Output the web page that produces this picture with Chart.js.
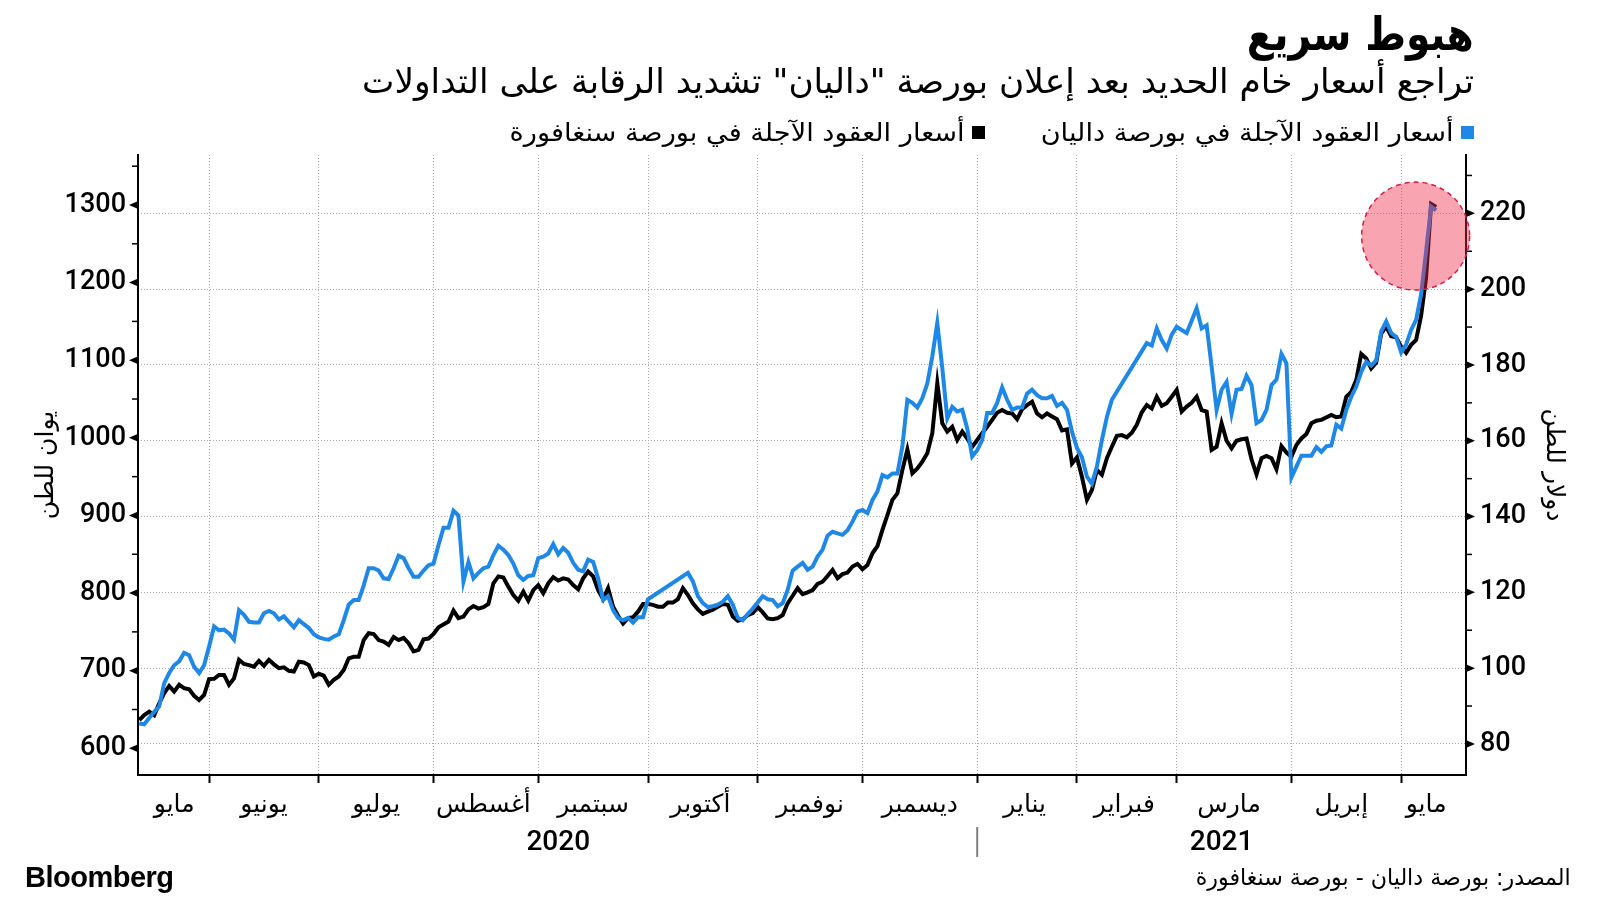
<!DOCTYPE html>
<html lang="ar">
<head>
<meta charset="utf-8">
<script src="https://cdn.jsdelivr.net/npm/chart.js@4.4.1/dist/chart.umd.min.js"></script>
<style>
  html, body { margin: 0; padding: 0; background: #fff; }
  #wrap { position: relative; width: 1600px; height: 900px; overflow: hidden; }
  #chart { position: absolute; left: 0; top: 0; }
  .txt { position: absolute; white-space: nowrap; color: #000; font-family: 'DejaVu Sans', sans-serif; line-height: 1; transform-origin: right center; }
  #title { right: 126px; top: 11px; font-size: 46px; font-weight: bold; }
  #subtitle { right: 126px; top: 64px; font-size: 34px; }
  .leg { top: 120px; font-size: 25px; }
  .sw { position: absolute; top: 126px; width: 13px; height: 13px; }
  #brand { position: absolute; left: 25px; top: 861px; font: bold 29px 'Liberation Sans', Arial, sans-serif; letter-spacing: -0.5px; }
  #source { right: 29px; top: 866px; font-size: 23px; }
</style>
</head>
<body>
<div id="wrap">
  <canvas id="chart" width="1600" height="900"></canvas>
  <div class="txt" id="title" dir="rtl">هبوط سريع</div>
  <div class="txt" id="subtitle" dir="rtl">تراجع أسعار خام الحديد بعد إعلان بورصة "داليان" تشديد الرقابة على التداولات</div>
  <div id="brand">Bloomberg</div>
  <div class="txt" id="source" dir="rtl">المصدر: بورصة داليان - بورصة سنغافورة</div>
</div>
<script>
// trading-day index (0 = 12 May 2020) and prices
const dalianDays = [0,1,2,3,4,5,6,7,8,9,10,11,12,13,14,15,16,17,18,19,20,21,22,23,24,25,26,27,28,29,30,31,32,33,34,35,36,37,38,39,40,41,42,43,44,45,46,47,48,49,50,51,52,53,54,55,56,57,58,59,60,61,62,63,64,65,66,67,68,69,70,71,72,73,74,75,76,77,78,79,80,81,82,83,84,85,86,87,88,89,90,91,92,93,94,95,96,97,98,99,100,101,102,110,111,112,113,114,115,116,117,118,119,120,121,122,123,125,126,127,128,129,130,131,132,133,134,135,136,137,138,139,140,141,142,143,144,145,146,147,148,149,150,151,152,153,154,155,156,157,158,159,160,161,162,163,164,165,166,167,168,169,170,171,172,173,174,175,176,177,178,179,180,181,182,183,184,185,186,187,188,189,190,191,192,193,194,195,202,203,204,205,206,207,208,209,210,211,212,213,214,215,216,217,218,219,220,221,222,223,224,225,226,227,228,229,230,231,232,233,234,235,236,237,238,239,240,241,242,243,244,245,246,247,248,249,250,251,252,253,254,255,256,257,258,259,260];
const dalianPrices = [632,631,639,647,654,684,697,707,712,723,720,705,697,707,731,757,752,753,748,740,778,772,763,762,762,774,777,774,766,770,763,756,765,760,755,747,743,741,740,744,747,765,785,791,791,810,832,832,829,819,818,832,848,845,832,821,821,829,836,838,862,884,884,906,900,815,840,819,826,832,834,849,861,856,849,838,823,817,822,823,845,847,851,863,850,858,852,839,830,828,843,840,819,791,796,778,768,765,768,762,769,769,792,826,815,796,787,782,783,785,789,796,785,768,765,773,780,796,792,791,783,787,804,829,834,839,830,834,847,856,874,879,877,875,881,892,905,907,903,920,931,952,949,954,954,989,1049,1045,1039,1051,1070,1105,1148,1090,1025,1040,1034,1036,1012,976,984,997,1032,1032,1045,1065,1049,1036,1039,1039,1057,1062,1055,1051,1051,1054,1041,1045,1036,1008,987,975,950,941,963,997,1027,1049,1122,1119,1141,1126,1115,1133,1143,1139,1135,1151,1167,1141,1145,1092,1036,1062,1072,1031,1062,1063,1080,1068,1019,1023,1036,1068,1075,1108,1096,949,963,977,977,977,988,982,989,990,1017,1012,1036,1053,1066,1085,1098,1093,1100,1137,1150,1135,1130,1110,1120,1139,1152,1185,1240,1298,1293];

const sgxDays = [0,1,2,3,4,5,6,7,8,9,10,11,12,13,14,15,16,17,18,19,20,21,22,23,24,25,26,27,28,29,30,31,32,33,34,35,36,37,38,39,40,41,42,43,44,45,46,47,48,49,50,51,52,53,54,55,56,57,58,59,60,62,63,64,65,66,67,68,69,70,71,72,73,74,75,76,77,78,79,80,81,82,83,84,85,86,87,88,89,90,91,92,93,94,95,96,97,98,99,100,101,102,103,104,105,106,107,108,109,110,111,112,113,114,115,116,117,118,119,120,121,122,123,124,125,126,127,128,129,130,131,132,133,134,135,136,137,138,139,140,141,142,143,144,145,146,147,148,149,150,151,152,153,154,155,156,157,158,159,160,161,162,163,164,165,166,167,168,169,170,171,172,173,174,175,176,177,178,179,180,181,182,183,184,185,186,187,188,189,190,191,192,193,194,195,196,197,198,199,200,201,202,203,204,205,206,207,208,209,210,211,212,213,214,215,216,217,218,219,220,221,222,223,224,225,226,227,228,229,230,231,232,233,234,235,236,237,239,240,241,242,243,244,245,246,247,248,249,250,251,252,253,254,255,256,257,258,259,260];
const sgxPrices = [86.3,87.6,88.5,87.6,90.7,93.4,95.3,93.8,95.6,94.7,94.4,92.7,91.6,92.9,97.1,97.2,98.2,98.2,95.6,97.3,102.2,101.1,100.8,100.4,101.9,100.6,102.2,101.0,100.0,100.2,99.3,99.1,101.7,101.5,100.8,97.8,98.5,98.0,95.6,96.9,97.8,99.5,102.6,103.0,103.0,107.4,109.2,109.0,107.4,107.0,106.1,108.2,107.4,108.0,106.6,104.4,104.8,107.6,107.8,109.0,110.8,112.3,115.2,113.2,113.6,115.5,116.4,115.7,116.1,116.9,122.4,124.2,123.9,121.5,119.3,117.8,120.2,117.8,120.6,121.9,119.8,122.4,124.0,123.1,123.7,123.4,121.9,120.8,123.7,125.5,124.2,120.6,118.2,121.1,116.2,113.8,111.8,113.2,113.4,114.9,116.9,116.9,116.7,116.2,116.2,117.3,117.3,118.2,121.1,119.3,117.1,115.5,114.3,114.9,115.4,116.2,116.9,116.7,113.6,112.5,112.9,114.0,114.5,116.1,114.7,113.1,112.9,113.2,114.0,117.1,119.1,121.1,119.5,120.0,120.6,122.2,122.8,124.3,125.9,123.7,124.8,125.2,126.8,127.5,126.1,127.2,130.3,132.2,136.5,140.4,144.4,146.1,152.3,157.7,151.4,152.7,154.5,156.7,162.0,175.2,164.6,162.4,163.7,160.2,162.4,160.6,158.4,160.2,162.0,163.7,165.5,167.4,168.1,167.4,167.2,165.7,168.3,169.4,170.3,167.2,166.2,167.2,166.4,165.7,162.7,163.0,154.0,155.6,150.5,144.4,147.0,152.3,151.0,155.4,158.4,161.3,161.5,160.9,162.1,164.2,167.5,169.4,168.5,171.6,169.2,169.9,171.6,173.4,167.7,169.0,170.0,171.6,168.1,167.7,157.6,158.4,164.6,160.0,158.0,160.0,160.4,160.6,155.1,151.1,155.4,156.0,155.4,152.5,158.6,156.9,155.8,158.9,160.6,161.8,164.6,165.3,165.5,166.8,166.2,166.4,171.6,172.9,176.0,182.9,181.7,179.1,180.6,188.3,190.1,187.6,187.3,184.8,183.2,185.3,186.6,193.0,203.0,222.5,221.7];

const seriesNames = ['أسعار العقود الآجلة في بورصة داليان', 'أسعار العقود الآجلة في بورصة سنغافورة'];
const seriesColors = ['#1f88e6', '#000000'];

const monthStarts = [14, 36, 59, 80, 102, 124, 145, 168, 188, 208, 231, 253];
const monthMids = [7, 25, 47.5, 69, 91, 112.5, 134.5, 156.5, 177.5, 197.5, 218.5, 241, 258];
const monthLabels = ['مايو', 'يونيو', 'يوليو', 'أغسطس', 'سبتمبر', 'أكتوبر', 'نوفمبر', 'ديسمبر', 'يناير', 'فبراير', 'مارس', 'إبريل', 'مايو'];
const yearLabels = ['2020', '2021'];
const yearMids = [84, 217];
const yearBreak = 168;

const yuanTicks = [600, 700, 800, 900, 1000, 1100, 1200, 1300];
const usdTicks = [80, 100, 120, 140, 160, 180, 200, 220];

// the marked spike (trading day, usd)
const highlight = { day: 255.9, usd: 214 };

// legend, right to left
const wrap = document.getElementById('wrap');
const legendRight = [126, 615];
seriesNames.forEach((name, i) => {
  const sw = document.createElement('div');
  sw.className = 'sw';
  sw.style.background = seriesColors[i];
  sw.style.right = legendRight[i] + 'px';
  wrap.appendChild(sw);
  const t = document.createElement('div');
  t.className = 'txt leg';
  t.dir = 'rtl';
  t.textContent = name;
  t.style.right = (legendRight[i] + 20) + 'px';
  wrap.appendChild(t);
});

// squeeze the arabic lines to the widths they have in the original
function fitWidth(el, w) {
  const r = el.getBoundingClientRect();
  if (r.width > 0) el.style.transform = 'scaleX(' + (w / r.width) + ')';
}
fitWidth(document.getElementById('title'), 227);
fitWidth(document.getElementById('subtitle'), 1112);
const legs = document.querySelectorAll('.leg');
fitWidth(legs[0], 413);
fitWidth(legs[1], 455);
fitWidth(document.getElementById('source'), 375);

const axisMarks = {
  id: 'axisMarks',
  afterDraw(chart) {
    const ctx = chart.ctx;
    ctx.save();
    ctx.fillStyle = '#000';
    ctx.strokeStyle = '#000';
    ctx.lineWidth = 1.5;
    const ys = chart.scales.y, yr = chart.scales.y1;
    ys.ticks.forEach(t => {
      const py = ys.getPixelForValue(t.value);
      const x0 = ys.right - 1;
      if (yuanTicks.includes(t.value)) {
        ctx.beginPath();
        ctx.moveTo(x0, py - 3.5); ctx.lineTo(x0 - 8, py); ctx.lineTo(x0, py + 3.5);
        ctx.closePath(); ctx.fill();
      } else {
        ctx.beginPath(); ctx.moveTo(x0, py); ctx.lineTo(x0 - 5, py); ctx.stroke();
      }
    });
    yr.ticks.forEach(t => {
      const py = yr.getPixelForValue(t.value);
      const x0 = yr.left + 1;
      if (usdTicks.includes(t.value)) {
        ctx.beginPath();
        ctx.moveTo(x0, py - 3.5); ctx.lineTo(x0 + 8, py); ctx.lineTo(x0, py + 3.5);
        ctx.closePath(); ctx.fill();
      } else {
        ctx.beginPath(); ctx.moveTo(x0, py); ctx.lineTo(x0 + 5, py); ctx.stroke();
      }
    });
    // years under the months
    const sx = chart.scales.x2;
    ctx.font = '500 28px Roboto';
    ctx.textAlign = 'center';
    ctx.textBaseline = 'middle';
    yearLabels.forEach((txt, i) => ctx.fillText(txt, sx.getPixelForValue(yearMids[i]), sx.top + 68));
    const bx = sx.getPixelForValue(yearBreak);
    ctx.strokeStyle = '#808080';
    ctx.lineWidth = 2;
    ctx.beginPath(); ctx.moveTo(bx, sx.top + 52); ctx.lineTo(bx, sx.top + 82); ctx.stroke();
    ctx.restore();
  }
};

const spotCircle = {
  id: 'spotCircle',
  afterDatasetsDraw(chart) {
    const ctx = chart.ctx;
    const cx = chart.scales.x.getPixelForValue(highlight.day);
    const cy = chart.scales.y1.getPixelForValue(highlight.usd);
    ctx.save();
    ctx.beginPath();
    ctx.arc(cx, cy, 54, 0, Math.PI * 2);
    ctx.fillStyle = 'rgba(240, 40, 70, 0.42)';
    ctx.fill();
    ctx.setLineDash([5, 4]);
    ctx.strokeStyle = '#d81e48';
    ctx.lineWidth = 1.5;
    ctx.stroke();
    ctx.restore();
  }
};

const gridGrey = '#a8a8a8';

new Chart(document.getElementById('chart'), {
  type: 'line',
  data: {
    datasets: [
      {
        label: seriesNames[0],
        data: dalianDays.map((d, i) => ({ x: d, y: dalianPrices[i] })),
        yAxisID: 'y',
        borderColor: seriesColors[0],
        borderWidth: 4,
        pointRadius: 0,
        tension: 0
      },
      {
        label: seriesNames[1],
        data: sgxDays.map((d, i) => ({ x: d, y: sgxPrices[i] })),
        yAxisID: 'y1',
        borderColor: seriesColors[1],
        borderWidth: 4,
        pointRadius: 0,
        tension: 0
      }
    ]
  },
  options: {
    responsive: false,
    animation: false,
    devicePixelRatio: 1,
    layout: { padding: { top: 155, left: 0, right: 0, bottom: 0 } },
    plugins: { legend: { display: false }, tooltip: { enabled: false } },
    scales: {
      x: {
        type: 'linear', position: 'bottom', weight: 0,
        min: -0.25, max: 266,
        afterBuildTicks: s => { s.ticks = monthStarts.map(v => ({ value: v })); },
        afterFit: s => { s.height = 0; },
        ticks: { display: false },
        grid: { color: gridGrey, lineWidth: 1, tickLength: 8, tickWidth: 2, tickColor: '#000', tickBorderDash: [] },
        border: { display: true, color: '#000', width: 2, dash: [1, 2] }
      },
      x2: {
        type: 'linear', position: 'bottom', weight: 1,
        min: -0.25, max: 266,
        afterBuildTicks: s => { s.ticks = monthMids.map(v => ({ value: v })); },
        afterFit: s => { s.height = 125; },
        ticks: {
          autoSkip: false, maxRotation: 0, padding: 15, color: '#000',
          font: { family: "'DejaVu Sans'", size: 25 },
          callback: (v, i) => monthLabels[i]
        },
        grid: { display: false, drawTicks: false },
        border: { display: false }
      },
      y: {
        type: 'linear', position: 'left',
        min: 565.6, max: 1364.4,
        afterBuildTicks: s => {
          const t = [];
          for (let v = 550; v <= 1350; v += 50) if (v >= s.min && v <= s.max) t.push({ value: v });
          s.ticks = t;
        },
        afterFit: s => { s.width = 138; },
        ticks: {
          autoSkip: false, padding: 12, color: '#000',
          font: { family: 'Roboto', size: 27, weight: '500' },
          callback: v => yuanTicks.includes(v) ? String(v) : ''
        },
        grid: { display: false, drawTicks: false },
        border: { display: true, color: '#000', width: 2 },
        title: { display: true, text: 'يوان للطن', color: '#000', font: { family: "'DejaVu Sans'", size: 25 }, padding: { top: 31 } }
      },
      y1: {
        type: 'linear', position: 'right',
        min: 71.8, max: 235.4,
        afterBuildTicks: s => {
          const t = [];
          for (let v = 80; v <= 230; v += 10) if (v >= s.min && v <= s.max) t.push({ value: v });
          s.ticks = t;
        },
        afterFit: s => { s.width = 134; },
        ticks: {
          autoSkip: false, padding: 14, color: '#000',
          font: { family: 'Roboto', size: 27, weight: '500' },
          callback: v => usdTicks.includes(v) ? String(v) : ''
        },
        grid: {
          drawTicks: false, lineWidth: 1,
          color: c => (c.tick && usdTicks.includes(c.tick.value)) ? gridGrey : 'rgba(0,0,0,0)'
        },
        border: { display: true, color: '#000', width: 2, dash: [1, 2] },
        title: { display: true, text: 'دولار للطن', color: '#000', font: { family: "'DejaVu Sans'", size: 25 }, padding: { top: 32 } }
      }
    }
  },
  plugins: [axisMarks, spotCircle]
});
</script>
</body>
</html>
